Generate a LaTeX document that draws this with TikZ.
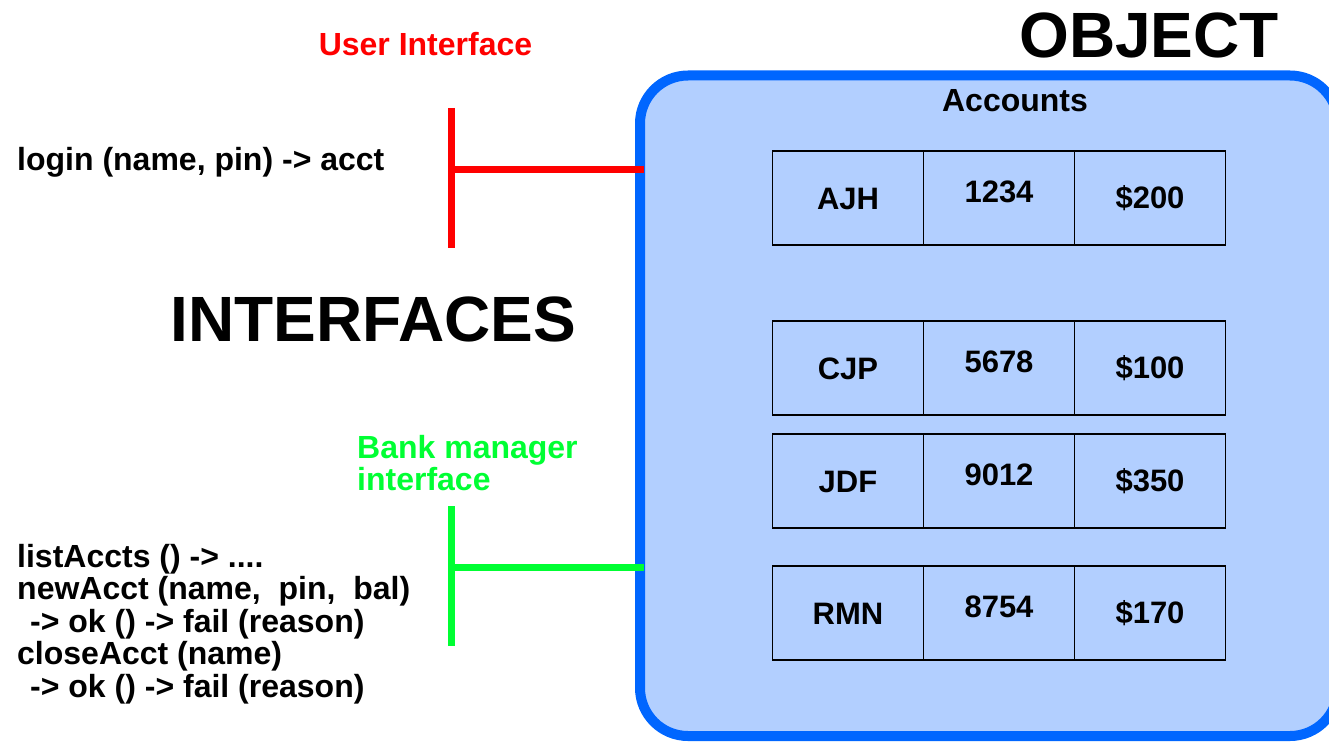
\documentclass[tikz,border=0pt]{standalone}
\usepackage{fontspec}
\setmainfont{Liberation Sans}
\usetikzlibrary{positioning}
\definecolor{objblue}{RGB}{0,102,255}
\definecolor{objfill}{RGB}{178,207,255}
\definecolor{mgrgreen}{RGB}{0,255,51}
\begin{document}
\begin{tikzpicture}[x=1pt,y=-1pt,
  txt/.style={font=\fontsize{32}{32.5}\selectfont\bfseries, inner sep=0pt},
  big/.style={font=\fontsize{64}{70}\selectfont\bfseries, inner sep=0pt},
  cell/.style={draw, line width=1.2pt, minimum width=151pt, minimum height=94pt, inner sep=0pt, outer sep=0pt, text height=22pt, text depth=0pt, font=\fontsize{31}{32.5}\selectfont\bfseries},
  pincell/.style={cell, text height=8pt},
  balcell/.style={cell, text height=20pt},
  port/.style={line width=7pt}]
\useasboundingbox (0,0) rectangle (1329,741);
\node[draw=objblue, fill=objfill, line width=10pt, rounded corners=48pt, minimum width=698pt, minimum height=660.5pt, outer sep=0pt] (obj) at (989,405.75){};
\node[big, anchor=base] (objtitle) at (1149,58){OBJECT};
\node[big, anchor=base] (iftitle) at (373.5,341){INTERFACES};
\node[txt, anchor=base] (acctitle) at (1015,112){Accounts};
\node[cell] (nm0) at (848,198){AJH};
\node[pincell, right=0pt of nm0] (pn0){1234};
\node[balcell, right=0pt of pn0] (bl0){\$200};
\node[cell, below=76pt of nm0] (nm1){CJP};
\node[pincell, right=0pt of nm1] (pn1){5678};
\node[balcell, right=0pt of pn1] (bl1){\$100};
\node[cell, below=19pt of nm1] (nm2){JDF};
\node[pincell, right=0pt of nm2] (pn2){9012};
\node[balcell, right=0pt of pn2] (bl2){\$350};
\node[cell, below=38pt of nm2] (nm3){RMN};
\node[pincell, right=0pt of nm3] (pn3){8754};
\node[balcell, right=0pt of pn3] (bl3){\$170};
\node[txt, red, anchor=base] (uititle) at (425.5,56){User Interface};
\node[txt, anchor=base west] (uiops) at (17,170){login (name, pin) -> acct};
\coordinate (uitop) at (451,108);
\coordinate (uibot) at (451,248);
\coordinate (uimid) at (451,169);
\draw[port, red] (uitop) -- (uibot);
\draw[port, red, shorten >=-4pt] (uimid) -- (uimid -| obj.west);
\node[txt, mgrgreen, align=left, anchor=north west] (mgrtitle) at (357,435){Bank manager\\interface};
\node[txt, align=left, anchor=north west] (mgrops) at (17,544){listAccts () -> ....\\newAcct (name,\ \ pin,\ \ bal)\\\hspace*{13pt}-> ok () -> fail (reason)\\closeAcct (name)\\\hspace*{13pt}-> ok () -> fail (reason)};
\coordinate (mgrtop) at (451,506);
\coordinate (mgrbot) at (451,646);
\coordinate (mgrmid) at (451,567);
\draw[port, mgrgreen] (mgrtop) -- (mgrbot);
\draw[port, mgrgreen, shorten >=-4pt] (mgrmid) -- (mgrmid -| obj.west);
\end{tikzpicture}
\end{document}
